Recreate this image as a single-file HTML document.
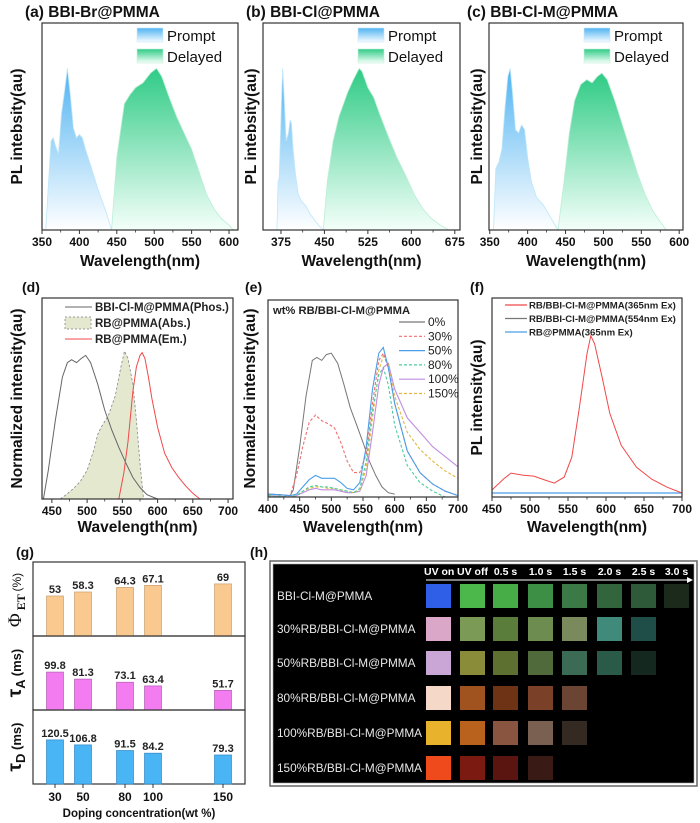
<!DOCTYPE html>
<html><head><meta charset="utf-8">
<style>
html,body{margin:0;padding:0;background:#fff;}
svg{display:block;font-family:"Liberation Sans",Arial,sans-serif;}
</style></head>
<body>
<svg id="fig" width="700" height="823" viewBox="0 0 700 823" xmlns="http://www.w3.org/2000/svg">
<defs>
<linearGradient id="gP" x1="0" y1="0" x2="0" y2="1"><stop offset="0" stop-color="#4fb3f2"/><stop offset="1" stop-color="#ffffff"/></linearGradient>
<linearGradient id="gD" x1="0" y1="0" x2="0" y2="1"><stop offset="0" stop-color="#2fcb85"/><stop offset="1" stop-color="#f4fffa"/></linearGradient>
<linearGradient id="gPL" x1="0" y1="0" x2="0" y2="1"><stop offset="0" stop-color="#4fb3f2"/><stop offset="1" stop-color="#f4fbff"/></linearGradient>
<linearGradient id="gDL" x1="0" y1="0" x2="0" y2="1"><stop offset="0" stop-color="#2fcb85"/><stop offset="1" stop-color="#f4fffa"/></linearGradient>
</defs>
</svg>
<script>
// ---------- data ----------
const aPromptWl=[355,362,365,368,372,376,380,384,388,392,396,400,404,408,415,425,435,443];
const aPromptI=[0,0.55,0.57,0.52,0.47,0.72,0.85,1.0,0.83,0.63,0.57,0.59,0.57,0.5,0.4,0.25,0.12,0];
const aDelWl=[443,450,460,468,475,485,495,503,510,520,530,540,550,560,570,580,590,600,606];
const aDelI=[0,0.45,0.78,0.84,0.88,0.91,0.97,1.0,0.95,0.82,0.7,0.6,0.5,0.36,0.22,0.13,0.07,0.03,0];
const bPromptWl=[368,370,372,376,378,380,384,388,391,393,396,400,405,410,418,425,440,448];
const bPromptI=[0,0.3,0.32,0.8,1.0,0.85,0.55,0.6,0.68,0.66,0.5,0.35,0.22,0.18,0.15,0.1,0.03,0];
const bDelWl=[448,455,465,475,490,500,510,515,525,535,545,560,575,590,605,620,635,650,665];
const bDelI=[0,0.3,0.55,0.7,0.85,0.93,1.0,0.98,0.88,0.82,0.72,0.58,0.45,0.34,0.22,0.13,0.07,0.03,0];
const cPromptWl=[355,358,362,366,370,374,377,380,384,388,392,396,400,405,412,420,430,440];
const cPromptI=[0,0.38,0.42,0.5,0.75,0.95,1.0,0.85,0.62,0.6,0.65,0.62,0.45,0.3,0.2,0.16,0.08,0];
const cDelWl=[440,448,455,462,470,478,485,492,498,505,515,525,535,545,555,565,575,583];
const cDelI=[0,0.3,0.6,0.8,0.9,0.93,0.91,0.95,0.97,0.93,0.8,0.65,0.5,0.35,0.22,0.12,0.05,0];

const dPhosWl=[438,445,455,465,472,478,485,492,498,505,515,525,535,545,555,565,575,585,595,600];
const dPhosI=[0,0.2,0.55,0.85,0.95,0.97,0.95,0.98,1.0,0.95,0.8,0.62,0.48,0.36,0.25,0.15,0.08,0.03,0.01,0];
const dAbsWl=[462,470,480,490,500,510,515,520,530,540,548,553,558,565,570,575,580];
const dAbsI=[0,0.03,0.07,0.12,0.2,0.35,0.45,0.5,0.58,0.72,0.92,1.03,0.98,0.8,0.55,0.25,0];
const dEmWl=[545,552,558,565,570,575,578,582,587,592,600,610,620,630,640,650,660];
const dEmI=[0,0.18,0.4,0.75,0.92,1.0,1.02,0.98,0.85,0.7,0.5,0.32,0.22,0.15,0.09,0.04,0];

const e0Wl=[400,420,435,440,450,460,470,477,485,492,500,510,520,530,540,550,560,570,580,590,600];
const e0I=[0.02,0.015,0.01,0.05,0.35,0.7,0.95,0.97,0.95,0.99,1.0,0.93,0.78,0.62,0.5,0.38,0.25,0.15,0.07,0.03,0.02];
const eWl=[400,420,435,445,455,465,475,485,495,505,515,525,535,545,555,565,575,582,590,600,620,640,660,680,700];
const e30=[0.02,0.015,0.01,0.15,0.35,0.52,0.57,0.53,0.51,0.48,0.38,0.25,0.17,0.17,0.3,0.65,0.95,1.0,0.9,0.65,0.32,0.17,0.09,0.04,0.01];
const e50=[0.02,0.015,0.01,0.02,0.07,0.12,0.15,0.13,0.13,0.13,0.1,0.06,0.05,0.1,0.35,0.75,1.0,1.04,0.9,0.65,0.32,0.17,0.09,0.04,0.01];
const e80=[0.01,0.005,0.0,0.01,0.04,0.07,0.08,0.07,0.07,0.06,0.05,0.04,0.03,0.06,0.25,0.6,0.85,0.9,0.78,0.5,0.22,0.1,0.04,0.0,0.0];
const e100=[0.01,0.005,0.0,0.01,0.03,0.05,0.06,0.05,0.05,0.05,0.04,0.03,0.03,0.04,0.15,0.45,0.78,0.9,0.93,0.75,0.55,0.45,0.35,0.28,0.21];
const e150=[0.01,0.005,0.0,0.01,0.04,0.06,0.07,0.07,0.06,0.06,0.05,0.04,0.03,0.05,0.2,0.55,0.88,0.98,0.92,0.7,0.45,0.33,0.25,0.18,0.13];

const fWl=[450,465,475,490,505,520,532,545,555,565,575,580,585,595,605,620,640,660,680,700];
const fRed=[0.035,0.09,0.12,0.11,0.105,0.085,0.07,0.1,0.2,0.45,0.72,0.81,0.77,0.6,0.42,0.26,0.15,0.09,0.05,0.02];
const fFlatWl=[450,700];
const fGrey=[0.02,0.02];
const fBlue=[0.02,0.02];

const gConc=[30,50,80,100,150];
const gPhi=[53,58.3,64.3,67.1,69];
const gTauA=[99.8,81.3,73.1,63.4,51.7];
const gTauD=[120.5,106.8,91.5,84.2,79.3];
const gPhiLbl=["53","58.3","64.3","67.1","69"];
const gTauALbl=["99.8","81.3","73.1","63.4","51.7"];
const gTauDLbl=["120.5","106.8","91.5","84.2","79.3"];

const hTimes=["UV on","UV off","0.5 s","1.0 s","1.5 s","2.0 s","2.5 s","3.0 s"];
const hSamples=["BBI-Cl-M@PMMA","30%RB/BBI-Cl-M@PMMA","50%RB/BBI-Cl-M@PMMA","80%RB/BBI-Cl-M@PMMA","100%RB/BBI-Cl-M@PMMA","150%RB/BBI-Cl-M@PMMA"];
const hColors=[
 ["#2f5fe6","#4cb84c","#47ad47","#3e8f46","#3b7a46","#33653d","#2f5a3a","#1c2a1c"],
 ["#dba7c9","#7a9a55","#5b7d3c","#6c8c50","#7a8a5c","#3f8a7a","#1f4d48"],
 ["#c9a6d6","#8a8c3a","#5e7030","#506a3c","#3b6a55","#2a5a48","#142820"],
 ["#f5d8c8","#a0521f","#6e3315","#7a4128","#6b4433"],
 ["#e8b22d","#b8621e","#8a5540","#7a6050","#352a22"],
 ["#ee4a1c","#7a1a10","#5a1510","#3a1a14"]
];

// ---------- helpers ----------
const NS="http://www.w3.org/2000/svg";
const svg=document.getElementById('fig');
function mk(tag,attrs,parent){const e=document.createElementNS(NS,tag);for(const k in attrs)e.setAttribute(k,attrs[k]);(parent||svg).appendChild(e);return e;}
function txt(s,x,y,size,opts,parent){const t=mk('text',Object.assign({x:x,y:y,'font-size':size},opts||{}),parent);t.textContent=s;return t;}
function scaleX(p,v){return p.x0+(v-p.xmin)/(p.xmax-p.xmin)*(p.x1-p.x0);}
function scaleY(p,v){return p.y1-(v/p.ymax)*(p.y1-p.y0);}
function pathFrom(p,wl,vals){return wl.map((w,i)=>(i?'L':'M')+scaleX(p,w).toFixed(1)+' '+scaleY(p,vals[i]).toFixed(1)).join(' ');}
function area(p,wl,vals,fill,stroke,dash,name){
  const d=pathFrom(p,wl,vals)+' L'+scaleX(p,wl[wl.length-1]).toFixed(1)+' '+p.y1+' L'+scaleX(p,wl[0]).toFixed(1)+' '+p.y1+' Z';
  const e=mk('path',{d:d,fill:fill,stroke:stroke||'none','stroke-width':0.8,'stroke-dasharray':dash||'none'});
  
  
  return e;
}
function line(p,wl,vals,color,dash,name,w){
  const e=mk('path',{d:pathFrom(p,wl,vals),fill:'none',stroke:color,'stroke-width':w||1,'stroke-dasharray':dash||'none'});
  
  
  return e;
}
function frame(p,ticks,minor,name,ylabel,ylx,xlabelY){
  const r=mk('rect',{x:p.x0,y:p.y0,width:p.x1-p.x0,height:p.y1-p.y0,fill:'none',stroke:'#333','stroke-width':1.2});
  
  
  ticks.forEach(t=>{const x=scaleX(p,t);mk('line',{x1:x,x2:x,y1:p.y1,y2:p.y1+4,stroke:'#333','stroke-width':1});
    const tl=txt(String(t),x,p.y1+16,12,{'text-anchor':'middle','font-weight':'bold',fill:'#111'});
    
    });
  minor.forEach(t=>{const x=scaleX(p,t);mk('line',{x1:x,x2:x,y1:p.y1,y2:p.y1+2.5,stroke:'#333','stroke-width':0.8});});
  const xl=txt('Wavelength(nm)',(p.x0+p.x1)/2,xlabelY,15.5,{'text-anchor':'middle','font-weight':'bold',fill:'#111'});
  
  
  const cy=(p.y0+p.y1)/2;
  const yl=txt(ylabel,ylx,cy,15.5,{'text-anchor':'middle','font-weight':'bold',fill:'#111',transform:'rotate(-90 '+ylx+' '+cy+')'});
  
  
}
function panelTitle(s,x,y,name,size){const t=txt(s,x,y,size||13,{'font-weight':'bold',fill:'#111'});}
function topLegend(p,name){
  const lx=p.x0+95;
  const r1=mk('rect',{x:lx,y:28,width:26,height:14,fill:'url(#gPL)',stroke:'#cfe9f8','stroke-width':0.6});
  
  
  const t1=txt('Prompt',lx+30,41,15,{fill:'#111'});
  
  
  const r2=mk('rect',{x:lx,y:49,width:26,height:14,fill:'url(#gDL)',stroke:'#c9efdc','stroke-width':0.6});
  
  
  const t2=txt('Delayed',lx+30,62,15,{fill:'#111'});
  
  
}

// ---------- top row ----------
const pa={x0:42,x1:238,y0:23,y1:230,xmin:350,xmax:612,ymax:1.28};
const pb={x0:263,x1:460,y0:23,y1:230,xmin:344,xmax:684,ymax:1.28};
const pc={x0:489,x1:683,y0:23,y1:230,xmin:349,xmax:605,ymax:1.28};
panelTitle('(a)  BBI-Br@PMMA',25,17,'panel-a-title',15.5);
panelTitle('(b)  BBI-Cl@PMMA',246,17,'panel-b-title',15.5);
panelTitle('(c) BBI-Cl-M@PMMA',467,17,'panel-c-title',15.5);
area(pa,aPromptWl,aPromptI,'url(#gP)','#bfe6f8',null,'a-prompt-area');
area(pa,aDelWl,aDelI,'url(#gD)','#bdeed6',null,'a-delayed-area');
area(pb,bPromptWl,bPromptI,'url(#gP)','#bfe6f8',null,'b-prompt-area');
area(pb,bDelWl,bDelI,'url(#gD)','#bdeed6',null,'b-delayed-area');
area(pc,cPromptWl,cPromptI,'url(#gP)','#bfe6f8',null,'c-prompt-area');
area(pc,cDelWl,cDelI,'url(#gD)','#bdeed6',null,'c-delayed-area');
frame(pa,[350,400,450,500,550,600],[375,425,475,525,575],'panel-a','PL intebsity(au)',22,266);
frame(pb,[375,450,525,600,675],[412.5,487.5,562.5,637.5],'panel-b','PL intebsity(au)',256,266);
frame(pc,[350,400,450,500,550,600],[375,425,475,525,575],'panel-c','PL intebsity(au)',482,266);
topLegend(pa,'panel-a');topLegend(pb,'panel-b');topLegend(pc,'panel-c');

// ---------- second row ----------
const pd={x0:42,x1:233,y0:298,y1:499,xmin:436,xmax:707,ymax:1.4};
const pe={x0:268,x1:458,y0:300,y1:497,xmin:400,xmax:700,ymax:1.37};
const pf={x0:492,x1:682,y0:298,y1:497,xmin:450,xmax:700,ymax:1.0};
panelTitle('(d)',22,292,'panel-d-label',14);
panelTitle('(e)',245,292,'panel-e-label',14);
panelTitle('(f)',470,292,'panel-f-label',14);
area(pd,dAbsWl,dAbsI,'#e3e8cf','#888','2.5 2','d-abs-area');
line(pd,dPhosWl,dPhosI,'#666',null,'d-phos-line');
line(pd,dEmWl,dEmI,'#f0484a',null,'d-em-line');
frame(pd,[450,500,550,600,650,700],[475,525,575,625,675],'panel-d','Normalized intensity(au)',22,532);
// d legend
(function(){
 const l1=mk('line',{x1:65,x2:92,y1:307,y2:307,stroke:'#666','stroke-width':1});
 const t1=txt('BBI-Cl-M@PMMA(Phos.)',95,311,11.5,{'font-weight':'bold',fill:'#222'});
 const r2=mk('rect',{x:65,y:317,width:26,height:12,fill:'#e3e8cf',stroke:'#999','stroke-dasharray':'2 2'});
 const t2=txt('RB@PMMA(Abs.)',95,327,11.5,{'font-weight':'bold',fill:'#222'});
 const l3=mk('line',{x1:65,x2:92,y1:339,y2:339,stroke:'#f0484a','stroke-width':1});
 const t3=txt('RB@PMMA(Em.)',95,343,11.5,{'font-weight':'bold',fill:'#222'});
})();

const eSeries=[[e100,'#c08ee0',null,'100%'],[e150,'#e0b840','3 2','150%'],[e80,'#4ccca0','3 2','80%'],[e30,'#f07070','3 2','30%'],[e50,'#4a9ee8',null,'50%']];
line(pe,e0Wl,e0I,'#777',null,'e-line-0pct');
eSeries.forEach(s=>line(pe,eWl,s[0],s[1],s[2],'e-line-'+s[3].replace('%','pct'),1.1));
frame(pe,[400,450,500,550,600,650,700],[425,475,525,575,625,675],'panel-e','Normalized intensity(au)',255,532);
(function(){
 const tt=txt('wt% RB/BBI-Cl-M@PMMA',273,314,11.2,{'font-weight':'bold',fill:'#222'});
 const leg=[['#777',null,'0%'],['#f07070','3 2','30%'],['#4a9ee8',null,'50%'],['#4ccca0','3 2','80%'],['#c08ee0',null,'100%'],['#e0b840','3 2','150%']];
 leg.forEach((L,i)=>{const y=322+i*14.3;
  const l=mk('line',{x1:399,x2:425,y1:y,y2:y,stroke:L[0],'stroke-width':1.2,'stroke-dasharray':L[1]||'none'});
  const t=txt(L[2],428,y+4,12,{fill:'#222'});});
})();

line(pf,fFlatWl,fGrey,'#777',null,'f-grey-line');
line(pf,fFlatWl,fBlue,'#4a9ee8',null,'f-blue-line',1.3);
line(pf,fWl,fRed,'#f0484a',null,'f-red-line');
frame(pf,[450,500,550,600,650,700],[475,525,575,625,675],'panel-f','PL intensity(au)',482,532);
(function(){
 const leg=[['#f0484a','RB/BBI-Cl-M@PMMA(365nm Ex)'],['#777','RB/BBI-Cl-M@PMMA(554nm Ex)'],['#4a9ee8','RB@PMMA(365nm Ex)']];
 leg.forEach((L,i)=>{const y=305+i*13.5;
  const l=mk('line',{x1:505,x2:527,y1:y,y2:y,stroke:L[0],'stroke-width':1.3});
  const t=txt(L[1],529,y+3.5,9.6,{'font-weight':'bold',fill:'#222'});});
})();

// ---------- panel g ----------
panelTitle('(g)',16,557,'panel-g-label',14);
const gx0=33,gx1=245;
function gx(c){return 55+(c-30)*1.4;}
const gPanels=[
 {vals:gPhi,lbl:gPhiLbl,y0:562,y1:636,k:0.755,fill:'#f9c990',stroke:'#c9a070',name:'phi-et'},
 {vals:gTauA,lbl:gTauALbl,y0:636,y1:710,k:0.38,fill:'#f27cf0',stroke:'#b060b0',name:'tau-a'},
 {vals:gTauD,lbl:gTauDLbl,y0:710,y1:784,k:0.366,fill:'#4ab5f5',stroke:'#3088c8',name:'tau-d'}];
gPanels.forEach(P=>{
 const r=mk('rect',{x:gx0,y:P.y0,width:gx1-gx0,height:P.y1-P.y0,fill:'none',stroke:'#333','stroke-width':1.2});
 
 gConc.forEach((c,i)=>{const h=P.vals[i]*P.k;
  const b=mk('rect',{x:gx(c)-8.5,y:P.y1-h,width:17,height:h,fill:P.fill,stroke:P.stroke,'stroke-width':0.7});
  
  const t=txt(P.lbl[i],gx(c),P.y1-h-3,11,{'text-anchor':'middle','font-weight':'bold',fill:'#222'});
  });
});
gConc.forEach(c=>{const x=gx(c);mk('line',{x1:x,x2:x,y1:784,y2:788,stroke:'#333'});
 const t=txt(String(c),x,801,12,{'text-anchor':'middle','font-weight':'bold',fill:'#111'});});
(function(){
 const xt=txt('Doping concentration(wt %)',139,817,11.5,{'text-anchor':'middle','font-weight':'bold',fill:'#111'});
 const y1=txt('',0,0,19,{'font-family':'Liberation Serif,serif',fill:'#111',transform:'translate(21 600) rotate(-90)','text-anchor':'middle'});
 y1.innerHTML='Φ<tspan font-size="12" font-weight="bold" dy="4"> ET </tspan><tspan font-size="12" dy="-4" font-family="Liberation Sans,sans-serif">(%)</tspan>';
 
 const y2=txt('',0,0,19,{fill:'#111','font-weight':'bold',transform:'translate(21 673) rotate(-90)','text-anchor':'middle'});
 y2.innerHTML='τ<tspan font-size="13" dy="4">A</tspan><tspan font-size="13" dy="-4"> (ms)</tspan>';
 
 const y3=txt('',0,0,19,{fill:'#111','font-weight':'bold',transform:'translate(21 747) rotate(-90)','text-anchor':'middle'});
 y3.innerHTML='τ<tspan font-size="13" dy="4">D</tspan><tspan font-size="13" dy="-4"> (ms)</tspan>';
 
})();

// ---------- panel h ----------
panelTitle('(h)',250,557,'panel-h-label',14);
(function(){
 const o=mk('rect',{x:270,y:561,width:427,height:225,fill:'#fff',stroke:'#666','stroke-width':1.5});
 
 const i=mk('rect',{x:273,y:564,width:421,height:219,fill:'#000',stroke:'#aaa','stroke-width':0.6});
 
 const ar=mk('line',{x1:426,x2:690,y1:580,y2:580,stroke:'#fff','stroke-width':1});
 
 mk('path',{d:'M687 577 L693 580 L687 583 Z',fill:'#fff'});
 const colX=[426,460,493,528,562,597,631,664];
 hTimes.forEach((t,k)=>{const e=txt(t,k===0?424:colX[k]+12.5,575,10.5,{'font-weight':'bold',fill:'#fff','text-anchor':k===0?'start':'middle'});
  });
 const rowY=[584,617,651,686,721,756];
 hSamples.forEach((s,r)=>{
  const e=txt(s,277,rowY[r]+16,11.8,{fill:'#e8e8e8'});
  
  hColors[r].forEach((c,k)=>{const q=mk('rect',{x:colX[k],y:rowY[r],width:25,height:24,fill:c});
   });
 });
})();
</script>
</body></html>
